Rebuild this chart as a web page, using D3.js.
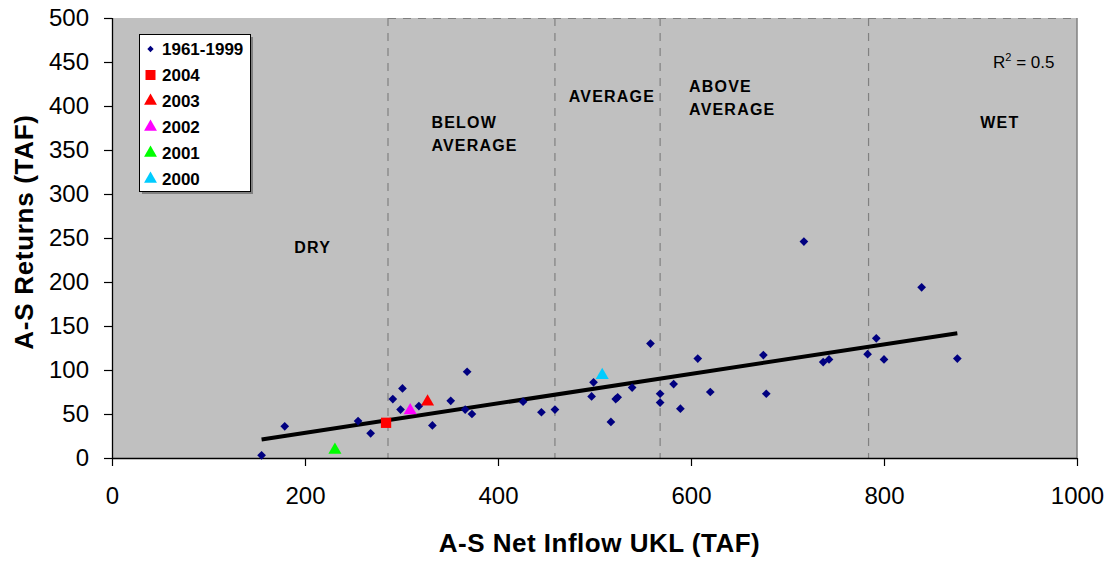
<!DOCTYPE html>
<html>
<head>
<meta charset="utf-8">
<script src="https://cdn.jsdelivr.net/npm/d3@7"></script>
<style>
  html, body { margin: 0; padding: 0; background: #fff; }
  svg { display: block; font-family: Arial, "Liberation Sans", sans-serif; }
</style>
</head>
<body>
<svg id="chart" width="1112" height="562"></svg>
<script>
// Annual net inflow to Upper Klamath Lake vs. A-S returns (TAF)
const histInflow = [155, 179, 255, 268, 291, 299, 301, 318, 332, 351, 366, 368, 373,
  426, 445, 459, 497, 499, 517, 522, 524, 539, 558, 568, 568, 582, 589, 607, 620,
  675, 678, 717, 737, 743, 783, 792, 800, 839, 876];
const histReturns = [3, 36, 42, 28, 67, 55, 79, 59, 37, 65, 55, 98, 50,
  64, 52, 55, 70, 86, 41, 67, 69, 80, 130, 73, 63, 84, 56, 113, 75,
  117, 73, 246, 109, 112, 118, 136, 112, 194, 113];

// Recent years, each with its own marker
const recentYears = ["2004", "2003", "2002", "2001", "2000"];
const recentInflow = [284, 327, 309, 231, 508];
const recentReturns = [40, 64, 54, 9, 94];
const recentShapes = ["square", "triangle", "triangle", "triangle", "triangle"];
const recentColors = ["#FF0000", "#FF0000", "#FF00FF", "#00FF00", "#00CCFF"];

// Linear trend for 1961-1999 and its fit
const trendSlope = 0.1676;
const trendIntercept = -5.0;
const rSquared = "0.5";

// Year-type boundaries on the inflow axis and their labels
const yearTypeBreaks = [286, 459, 568, 784];
const yearTypeLabels = [
  { lines: ["DRY"], x: 208, y: 247, anchor: "middle" },
  { lines: ["BELOW", "AVERAGE"], x: 331, y: 122, anchor: "start" },
  { lines: ["AVERAGE"], x: 518, y: 96, anchor: "middle" },
  { lines: ["ABOVE", "AVERAGE"], x: 598, y: 86, anchor: "start" },
  { lines: ["WET"], x: 920, y: 122, anchor: "middle" }
];

const xTicks = [0, 200, 400, 600, 800, 1000];
const yTicks = [0, 50, 100, 150, 200, 250, 300, 350, 400, 450, 500];

const svg = d3.select("#chart");
const plotL = 112, plotR = 1077, plotT = 18, plotB = 458;

const x = d3.scaleLinear().domain([0, 1000]).range([plotL, plotR]);
const y = d3.scaleLinear().domain([0, 500]).range([plotB, plotT]);

// Plot area
svg.append("rect")
  .attr("x", plotL).attr("y", plotT)
  .attr("width", plotR - plotL).attr("height", plotB - plotT)
  .attr("fill", "#C0C0C0");
svg.append("line")
  .attr("x1", plotR).attr("x2", plotR).attr("y1", plotT).attr("y2", plotB)
  .attr("stroke", "#808080").attr("stroke-width", 1.5);

// Year-type dividers
const dash = "8,7";
svg.append("g").selectAll("line").data(yearTypeBreaks).join("line")
  .attr("x1", d => x(d)).attr("x2", d => x(d))
  .attr("y1", plotT).attr("y2", plotB)
  .attr("stroke", "#808080").attr("stroke-width", 1.2)
  .attr("stroke-dasharray", dash);
svg.append("line")
  .attr("x1", x(yearTypeBreaks[0])).attr("x2", plotR)
  .attr("y1", plotT + 0.5).attr("y2", plotT + 0.5)
  .attr("stroke", "#808080").attr("stroke-width", 1.2)
  .attr("stroke-dasharray", dash);

// Year-type labels
const lbl = svg.append("g")
  .attr("font-size", 16).attr("font-weight", "bold")
  .attr("letter-spacing", 1.2).attr("fill", "#000");
yearTypeLabels.forEach(l => {
  l.lines.forEach((s, i) => {
    lbl.append("text")
      .attr("x", x(l.x))
      .attr("y", l.y + 6 + i * 23)
      .attr("text-anchor", l.anchor)
      .text(s);
  });
});

// Axes
const xAxis = d3.axisBottom(x).tickValues(xTicks).tickFormat(d3.format("d")).tickSize(8).tickPadding(20);
const yAxis = d3.axisLeft(y).tickValues(yTicks).tickFormat(d3.format("d")).tickSize(8).tickPadding(15);

const gx = svg.append("g").attr("transform", `translate(0,${plotB})`).call(xAxis);
const gy = svg.append("g").attr("transform", `translate(${plotL},0)`).call(yAxis);
[gx, gy].forEach(g => {
  g.select(".domain").attr("stroke", "#000").attr("stroke-width", 1.3);
  g.selectAll(".tick line").attr("stroke", "#000").attr("stroke-width", 1.2);
  g.selectAll(".tick text")
    .attr("font-size", 24).attr("fill", "#000")
    .attr("font-family", "Arial, 'Liberation Sans', sans-serif");
});
gx.select(".domain").attr("d", `M${plotL},0.5H${plotR}`);
gy.select(".domain").attr("d", `M0.5,${plotB}V${plotT}`);
gx.selectAll(".tick text").attr("dy", "0.76em");

// Axis titles
svg.append("text")
  .attr("x", (plotL + plotR) / 2 + 5).attr("y", 552)
  .attr("text-anchor", "middle")
  .attr("font-size", 26).attr("font-weight", "bold")
  .attr("letter-spacing", 0.5)
  .text("A-S Net Inflow UKL (TAF)");
svg.append("text")
  .attr("transform", `translate(33,232) rotate(-90)`)
  .attr("text-anchor", "middle")
  .attr("font-size", 26).attr("font-weight", "bold")
  .attr("letter-spacing", 0.7)
  .text("A-S Returns (TAF)");

// Trend line over the span of the 1961-1999 inflows
const [xMin, xMax] = d3.extent(histInflow);
const trend = [xMin, xMax].map(v => [v, trendSlope * v + trendIntercept]);
svg.append("path")
  .attr("d", d3.line().x(d => x(d[0])).y(d => y(d[1]))(trend))
  .attr("stroke", "#000").attr("stroke-width", 4).attr("fill", "none");

// Historical points
const diamond = d3.symbol().type(d3.symbolSquare).size(38);
svg.append("g").selectAll("path").data(histInflow).join("path")
  .attr("d", diamond)
  .attr("transform", (d, i) => `translate(${x(d)},${y(histReturns[i])}) rotate(45)`)
  .attr("fill", "#000080");

// Recent years
const shapeOf = s => s === "square"
  ? d3.symbol().type(d3.symbolSquare).size(106)
  : d3.symbol().type(d3.symbolTriangle).size(74);
svg.append("g").selectAll("path").data(recentInflow).join("path")
  .attr("d", (d, i) => shapeOf(recentShapes[i])())
  .attr("transform", (d, i) => `translate(${x(d)},${y(recentReturns[i])})`)
  .attr("fill", (d, i) => recentColors[i]);

// R-squared label
const r2 = svg.append("text")
  .attr("x", 993).attr("y", 68)
  .attr("font-size", 17).attr("fill", "#000");
r2.append("tspan").text("R");
r2.append("tspan").attr("font-size", 11).attr("dy", -7).text("2");
r2.append("tspan").attr("dy", 7).text(" = " + rSquared);

// Legend
const legX = 139, legY = 34, legW = 111, legH = 157;
svg.append("rect")
  .attr("x", legX + 3).attr("y", legY + 3).attr("width", legW).attr("height", legH)
  .attr("fill", "#808080");
svg.append("rect")
  .attr("x", legX + 0.5).attr("y", legY + 0.5).attr("width", legW).attr("height", legH)
  .attr("fill", "#fff").attr("stroke", "#000").attr("stroke-width", 1);

const legendItems = [{ label: "1961-1999", shape: "diamond", color: "#000080" }]
  .concat(recentYears.map((yr, i) => ({ label: yr, shape: recentShapes[i], color: recentColors[i] })));
const legG = svg.append("g");
legendItems.forEach((it, i) => {
  const cy = legY + 15 + i * 26;
  let sym;
  if (it.shape === "diamond") sym = d3.symbol().type(d3.symbolSquare).size(20)();
  else if (it.shape === "square") sym = d3.symbol().type(d3.symbolSquare).size(100)();
  else sym = d3.symbol().type(d3.symbolTriangle).size(72)();
  legG.append("path")
    .attr("d", sym)
    .attr("transform", `translate(${legX + 11.5},${cy})` + (it.shape === "diamond" ? " rotate(45)" : ""))
    .attr("fill", it.color);
  legG.append("text")
    .attr("x", legX + 23).attr("y", cy + 6)
    .attr("font-size", 17).attr("font-weight", "bold")
    .text(it.label);
});
</script>
</body>
</html>
